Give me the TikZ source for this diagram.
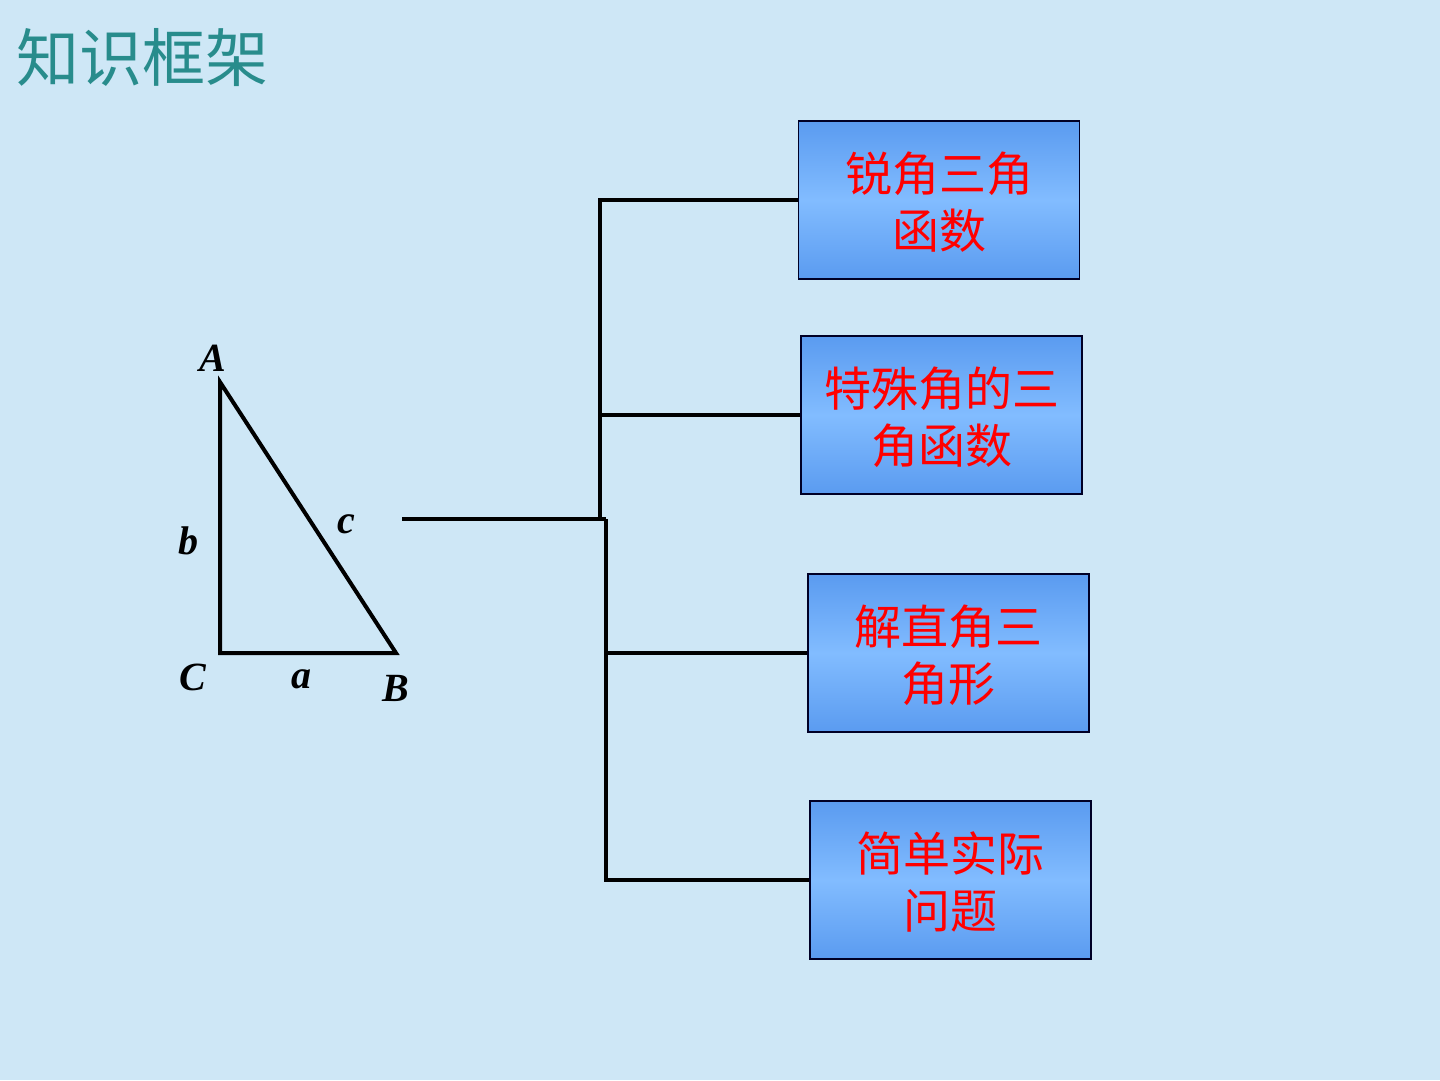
\documentclass[tikz,border=0pt]{standalone}
\usepackage{fontspec}
\setmainfont{Liberation Serif}
\newfontfamily\cjk{Noto Sans CJK SC}
\definecolor{bgblue}{RGB}{206,231,246}
\definecolor{boxedge}{RGB}{90,155,240}
\definecolor{boxmid}{RGB}{130,188,255}
\definecolor{titleteal}{RGB}{40,140,140}
\definecolor{txtred}{RGB}{255,0,0}
\begin{document}
\begin{tikzpicture}[x=1pt,y=-1pt,
  topic/.style={draw=black!85!blue,line width=1.2pt,minimum width=281pt,minimum height=158pt,
    top color=boxedge,bottom color=boxedge,middle color=boxmid,
    font=\cjk\fontsize{47}{57}\selectfont,text=txtred,align=center,inner sep=0pt,
    text depth=-6pt},
  link/.style={line width=4pt,black},
  lbl/.style={font=\fontsize{40}{40}\selectfont\bfseries\itshape,inner sep=0pt}]
\useasboundingbox[fill=bgblue] (0,0) rectangle (1440,1080);
\node[anchor=west,text=titleteal,font=\cjk\fontsize{63}{63}\selectfont,inner sep=0pt] (title) at (16,58) {知识框架};
% triangle
\coordinate (A) at (220,382);
\coordinate (C) at (220,653);
\coordinate (B) at (396,653);
\draw[line width=4pt,line join=miter] (A) -- (C) -- (B) -- cycle;
\node[lbl] (lA) at (213,358) {A};
\node[lbl] (lb) at (188,541) {b};
\node[lbl] (lc) at (346,524) {c};
\node[lbl] (lC) at (193,677) {C};
\node[lbl] (la) at (301,679) {a};
\node[lbl] (lB) at (396,688) {B};
% boxes
\node[topic] (b1) at (939,200) {锐角三角\\函数};
\node[topic] (b2) at (941.5,415) {特殊角的三\\角函数};
\node[topic] (b3) at (948.5,653) {解直角三\\角形};
\node[topic] (b4) at (950.5,880) {简单实际\\问题};
% connectors
\coordinate (s) at (402,519);
\coordinate (ja) at (600,519);
\coordinate (jb) at (606,519);
\draw[link] (s) -- (jb);
\draw[link] (ja) |- (b1.west);
\draw[link] (ja) |- (b2.west);
\draw[link] (jb) |- (b3.west);
\draw[link] (jb) |- (b4.west);
\end{tikzpicture}
\end{document}
